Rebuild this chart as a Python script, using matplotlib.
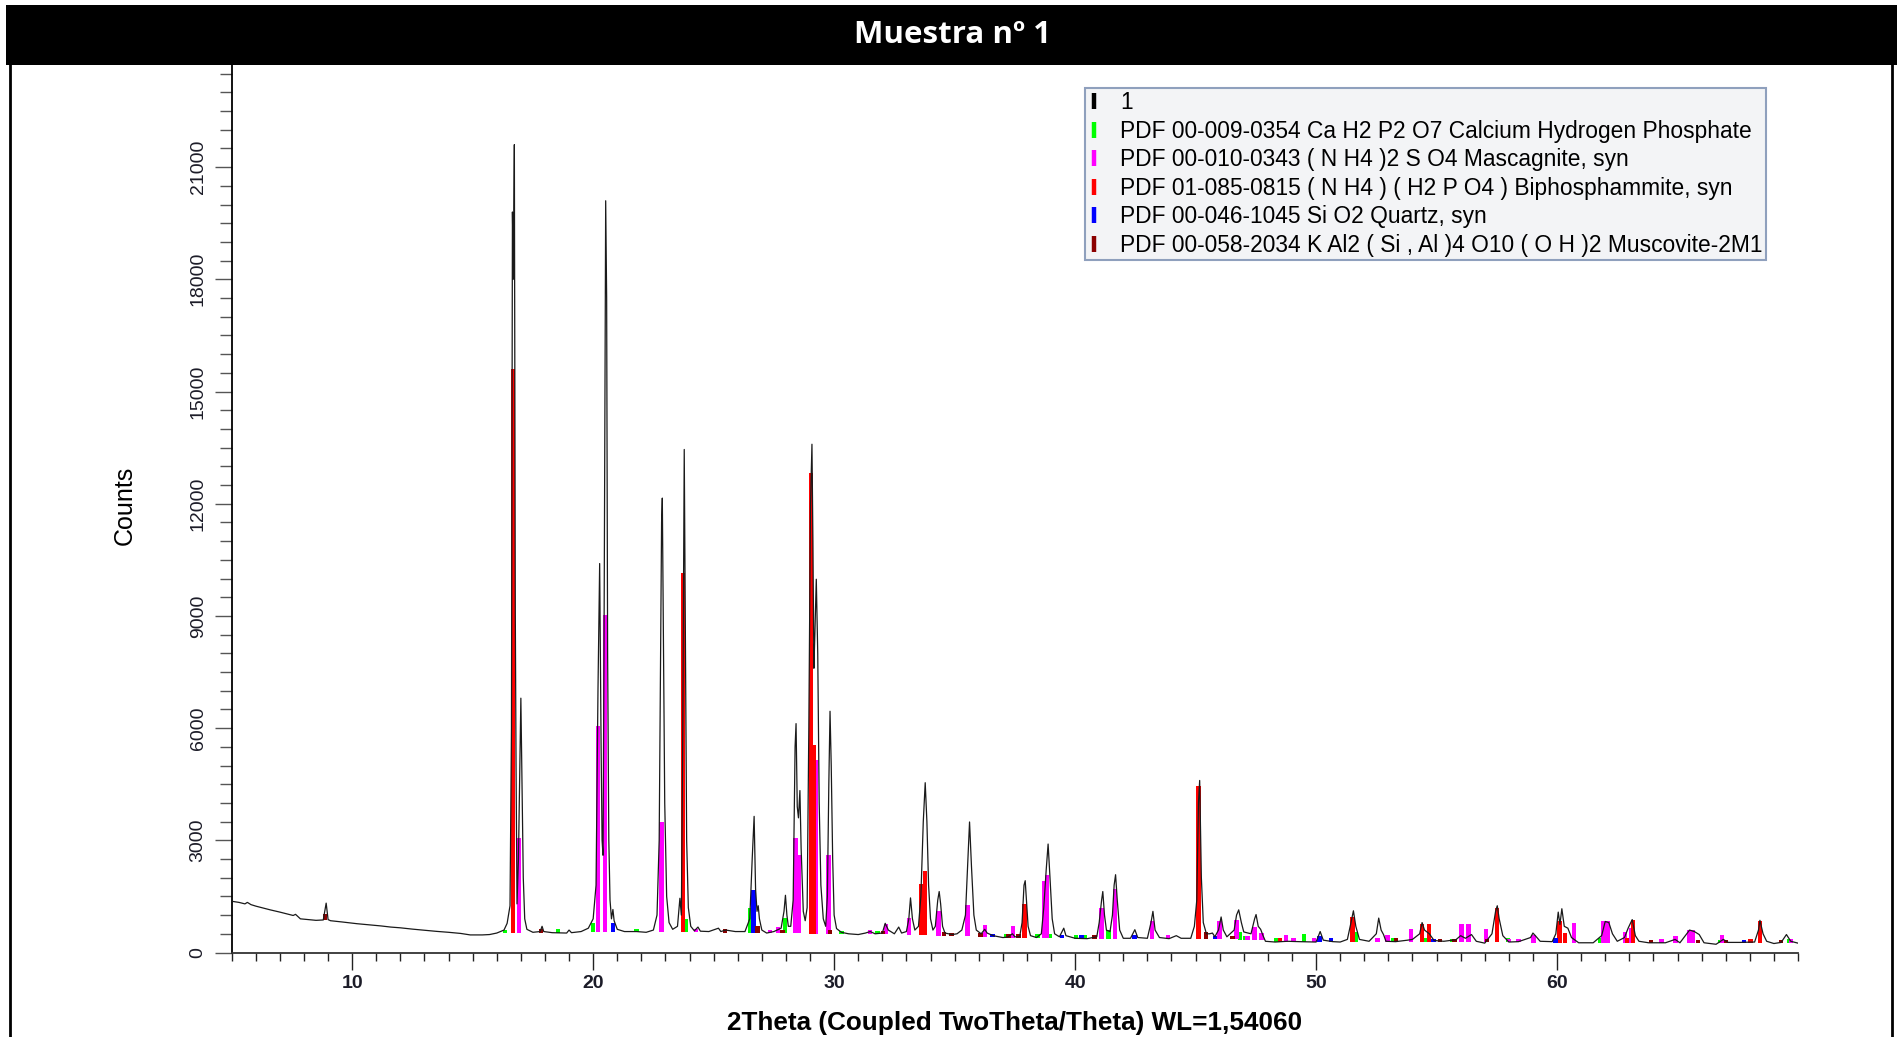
import numpy as np
import matplotlib.pyplot as plt
from matplotlib.lines import Line2D
from matplotlib.patches import Rectangle

plt.rcParams['font.family'] = ['Liberation Sans', 'DejaVu Sans']

two_theta = [5.0, 5.3, 5.55, 5.65, 5.8, 6.0, 6.3, 6.6, 7.0, 7.3, 7.55, 7.65, 7.85, 8.2, 8.5, 8.8,
             8.92, 9.0, 9.1, 9.6, 10.2, 10.7, 11.2, 11.6, 12.0, 12.5, 13.0, 13.5, 14.0, 14.5,
             14.9, 15.4, 15.7, 16.0, 16.3, 16.43, 16.55, 16.61, 16.65, 16.69, 16.73, 16.77,
             16.80, 16.84, 16.90, 16.96, 17.00, 17.05, 17.10, 17.16, 17.25, 17.5, 17.8, 17.88,
             17.95, 18.3, 18.9, 19.0, 19.1, 19.5, 19.8, 20.0, 20.12, 20.2, 20.27, 20.33, 20.37,
             20.41, 20.45, 20.49, 20.52, 20.56, 20.60, 20.65, 20.70, 20.76, 20.82, 20.87, 21.0,
             21.3, 21.8, 22.2, 22.5, 22.65, 22.74, 22.80, 22.84, 22.87, 22.92, 22.97, 23.05,
             23.15, 23.3, 23.5, 23.6, 23.66, 23.72, 23.78, 23.83, 23.88, 23.95, 24.05, 24.2,
             24.35, 24.45, 24.8, 25.2, 25.3, 25.5, 25.9, 26.3, 26.5, 26.6, 26.68, 26.74, 26.8,
             26.85, 26.9, 27.0, 27.2, 27.5, 27.8, 27.92, 27.98, 28.04, 28.1, 28.2, 28.3, 28.38,
             28.42, 28.47, 28.52, 28.58, 28.63, 28.72, 28.8, 28.88, 28.95, 29.02, 29.08, 29.12,
             29.16, 29.20, 29.26, 29.32, 29.38, 29.45, 29.55, 29.65, 29.72, 29.78, 29.83, 29.88,
             29.94, 30.0, 30.1, 30.3, 30.6, 31.0, 31.3, 31.5, 31.7, 32.0, 32.12, 32.25, 32.5,
             32.68, 32.8, 33.0, 33.1, 33.17, 33.25, 33.35, 33.5, 33.6, 33.7, 33.78, 33.85, 33.92,
             34.0, 34.1, 34.2, 34.3, 34.36, 34.42, 34.5, 34.6, 34.9, 35.1, 35.3, 35.45, 35.55,
             35.62, 35.7, 35.8, 35.9, 36.1, 36.25, 36.35, 36.6, 37.0, 37.2, 37.4, 37.5, 37.7,
             37.8, 37.88, 37.93, 37.98, 38.05, 38.15, 38.4, 38.6, 38.7, 38.8, 38.88, 38.95,
             39.05, 39.15, 39.35, 39.53, 39.62, 40.0, 40.5, 40.9, 41.0, 41.1, 41.15, 41.22, 41.3,
             41.45, 41.55, 41.62, 41.68, 41.75, 41.85, 42.0, 42.3, 42.48, 42.6, 43.0, 43.15,
             43.23, 43.32, 43.5, 43.9, 44.2, 44.4, 44.8, 44.95, 45.05, 45.12, 45.17, 45.24, 45.32,
             45.45, 45.58, 45.7, 45.8, 45.95, 46.06, 46.15, 46.3, 46.6, 46.7, 46.79, 46.9, 47.0,
             47.3, 47.45, 47.51, 47.6, 47.7, 47.8, 47.9, 48.3, 48.8, 49.3, 50.0, 50.17, 50.3,
             50.7, 51.0, 51.3, 51.45, 51.55, 51.65, 51.8, 52.2, 52.5, 52.6, 52.7, 52.8, 52.9,
             53.3, 53.8, 54.0, 54.3, 54.4, 54.5, 54.7, 54.9, 55.3, 55.8, 56.0, 56.2, 56.45, 56.65,
             57.0, 57.3, 57.45, 57.52, 57.6, 57.75, 58.0, 58.4, 58.9, 59.0, 59.1, 59.3, 59.8,
             59.95, 60.05, 60.12, 60.2, 60.3, 60.45, 60.6, 60.9, 61.5, 61.85, 62.0, 62.15, 62.3,
             62.5, 62.8, 62.95, 63.12, 63.25, 63.4, 63.8, 64.5, 64.9, 65.1, 65.5, 65.7, 65.9,
             66.1, 66.6, 66.9, 67.1, 67.6, 68.2, 68.36, 68.42, 68.55, 68.7, 69.0, 69.3, 69.52,
             69.7, 70.0]
counts = [1370, 1340, 1300, 1340, 1280, 1240, 1190, 1140, 1080, 1030, 990, 1020, 900, 880, 860, 870,
          1320, 880, 850, 815, 770, 740, 710, 680, 660, 625, 595, 565, 540, 510,
          470, 470, 480, 520, 600, 780, 1250, 6000, 19800, 18000, 21600, 9000,
          5000, 1300, 2500, 5000, 6800, 4500, 2000, 900, 620, 540, 560, 700,
          560, 530, 520, 600, 530, 560, 650, 900, 1800, 7000, 10400, 5500, 3000,
          2600, 8000, 15000, 20100, 17500, 8000, 3000, 1400, 900, 1150, 850, 620,
          560, 560, 540, 600, 1000, 3000, 8300, 11500, 12150, 8000, 4000, 1500,
          800, 620, 700, 1450, 1000, 6000, 13450, 8000, 3000, 1200, 700, 580,
          680, 570, 560, 650, 560, 600, 560, 560, 900, 2500, 3640, 1700, 1100,
          1250, 900, 600, 520, 560, 650, 1100, 1530, 1000, 700, 700, 1400, 5500,
          6120, 3900, 3600, 4330, 2800, 1100, 850, 1200, 6000, 12000, 13590, 11000,
          7600, 8500, 9980, 8000, 4000, 1800, 900, 700, 1500, 4500, 6450, 5000,
          2500, 1000, 640, 540, 500, 480, 520, 560, 500, 520, 780, 600, 500,
          680, 520, 560, 900, 1460, 900, 600, 700, 1500, 3500, 4540, 3500, 1800,
          900, 600, 700, 1400, 1630, 1300, 700, 520, 480, 500, 600, 1000, 2500,
          3490, 2300, 1000, 600, 500, 620, 520, 450, 400, 410, 500, 420, 420,
          800, 1800, 1920, 1400, 700, 450, 400, 500, 1200, 2200, 2900, 2100,
          900, 500, 420, 650, 450, 380, 370, 420, 800, 1400, 1630, 1000, 600,
          560, 1000, 1800, 2080, 1400, 600, 380, 380, 610, 400, 380, 800,
          1100, 600, 400, 370, 450, 380, 380, 700, 1400, 4000, 4600, 2000, 800,
          500, 500, 520, 420, 600, 950, 600, 420, 600, 1000, 1140, 800, 550,
          500, 900, 1015, 700, 620, 450, 300, 280, 300, 290, 280, 560, 330,
          290, 280, 350, 800, 1115, 700, 350, 300, 500, 920, 600, 480, 300,
          290, 330, 350, 500, 800, 600, 500, 320, 300, 340, 450, 380, 480, 300,
          250, 500, 1100, 1250, 900, 450, 280, 290, 400, 520, 450, 300, 290,
          500, 1080, 750, 1170, 700, 650, 400, 260, 260, 450, 830, 800, 500,
          300, 400, 650, 880, 450, 300, 260, 260, 350, 260, 600, 560, 480,
          260, 220, 350, 270, 270, 280, 600, 860, 500, 300, 240, 270, 480,
          300, 250]

# background level the reference sticks stand on
bg_theta = [5, 7, 9, 11, 13, 15, 16.5, 20, 24, 27, 30, 33, 37, 40, 44, 47.8, 48.2, 52, 56, 60, 66, 70]
bg_counts = [1370, 1080, 860, 720, 595, 470, 520, 540, 540, 520, 500, 480, 400, 370, 370, 340, 290,
             290, 280, 260, 250, 250]

# reference sticks: position (2theta) and top (counts)
cahpo_pos = [16.33, 18.55, 20.0, 21.8, 23.84, 26.53, 27.96, 30.3, 31.8, 37.14, 38.44, 38.94, 40.05,
             40.39, 41.38, 46.84, 47.07, 48.35, 49.5, 51.66, 53.18, 54.54, 55.65, 57.96, 61.8,
             66.77, 69.63]
cahpo_top = [600, 580, 780, 600, 900, 1200, 910, 560, 520, 420, 500, 500, 430,
             440, 600, 560, 450, 400, 500, 560, 330, 400, 330, 380, 400,
             300, 350]

masc_pos = [16.93, 20.2, 20.49, 22.83, 24.28, 27.33, 27.66, 28.4, 28.55, 29.23, 29.76, 31.5, 32.15,
            33.12, 34.33, 35.53, 36.27, 37.43, 38.73, 38.84, 41.1, 41.65, 43.2, 43.85, 45.99, 46.7,
            47.16, 47.45, 47.73, 48.74, 49.06, 49.92, 52.55, 52.96, 53.94, 56.03, 56.32, 57.04,
            58.02, 58.4, 59.02, 60.7, 61.93, 62.1, 62.83, 63.06, 64.34, 64.92, 65.5, 65.65, 66.84,
            69.7]
masc_top = [3050, 6060, 9020, 3490, 580, 550, 680, 3060, 2620, 5160, 2610, 600, 775,
            910, 1100, 1270, 740, 700, 1900, 2060, 1185, 1690, 830, 400, 855, 865,
            450, 695, 520, 460, 380, 360, 380, 470, 615, 765, 765, 615,
            360, 350, 455, 800, 830, 830, 540, 650, 360, 450, 605, 605, 470,
            360]

biph_pos = [16.67, 23.73, 29.03, 29.16, 33.63, 33.76, 37.9, 45.12, 48.5, 51.51, 54.4, 54.7, 57.5,
            60.1, 60.33, 62.9, 63.14, 68.03, 68.42]
biph_top = [15590, 10140, 12820, 5540, 1820, 2170, 1300, 4450, 330, 945, 765, 765, 1185,
            830, 520, 400, 875, 350, 855]

quartz_pos = [20.83, 26.65, 36.57, 39.47, 40.27, 42.46, 45.8, 50.14, 50.62, 54.87, 59.94, 67.77]
quartz_top = [780, 1680, 500, 460, 380, 430, 430, 440, 320, 320, 380, 310]

musc_pos = [8.88, 17.84, 25.46, 26.82, 27.86, 29.82, 32.03, 34.55, 34.87, 36.08, 37.24, 37.65, 40.8,
            45.42, 46.53, 53.32, 55.15, 55.74, 57.1, 63.9, 65.85, 67.0, 69.3]
musc_top = [1040, 580, 580, 720, 600, 520, 500, 480, 480, 440, 420, 420, 380,
            540, 400, 320, 320, 310, 300, 300, 290, 280, 270]

legend_labels = ["1",
                 "PDF 00-009-0354 Ca H2 P2 O7 Calcium Hydrogen Phosphate",
                 "PDF 00-010-0343 ( N H4 )2 S O4 Mascagnite, syn",
                 "PDF 01-085-0815 ( N H4 ) ( H2 P O4 ) Biphosphammite, syn",
                 "PDF 00-046-1045 Si O2 Quartz, syn",
                 "PDF 00-058-2034 K Al2 ( Si , Al )4 O10 ( O H )2 Muscovite-2M1"]
colors = ["black", "#00ff00", "#ff00ff", "#ff0000", "#0000ff", "#8b0000"]

W, H = 1897, 1037
fig = plt.figure(figsize=(W / 100, H / 100), dpi=100)

# title bar
fig.add_artist(Rectangle((6 / W, 1 - 65 / H), 1 - 6 / W, 60 / H, transform=fig.transFigure,
                         facecolor="black", edgecolor="none"))
fig.text(952 / W, 1 - 35 / H, "Muestra nº 1", color="white", fontsize=22.5, fontweight="bold",
         family=["Open Sans", "DejaVu Sans"], ha="center", va="center")
# frame sides
fig.add_artist(Line2D([10 / W, 10 / W], [0, 1 - 65 / H], color="black", lw=2, transform=fig.transFigure))
fig.add_artist(Line2D([1892 / W, 1892 / W], [0, 1 - 65 / H], color="black", lw=2, transform=fig.transFigure))

left, right, bottom, top = 231.7, 1798, 952.5, 65
ax = fig.add_axes([left / W, 1 - bottom / H, (right - left) / W, (bottom - top) / H])

phases = [(cahpo_pos, cahpo_top, colors[1]), (masc_pos, masc_top, colors[2]),
          (biph_pos, biph_top, colors[3]), (quartz_pos, quartz_top, colors[4]),
          (musc_pos, musc_top, colors[5])]
for pos, tops, c in phases:
    base = np.interp(pos, bg_theta, bg_counts)
    h = np.maximum(np.array(tops) - base, 90)
    ax.bar(pos, h, bottom=base, width=0.18, color=c, linewidth=0, zorder=2)

ax.plot(two_theta, counts, color="#1a1a1a", lw=0.9, zorder=3)

ax.set_xlim(5, 70)
ax.set_ylim(0, 23730)
ax.set_xticks(range(10, 70, 10))
ax.set_xticks(range(5, 71), minor=True)
ax.set_yticks(range(0, 21001, 3000))
ax.set_yticks(range(0, 23501, 500), minor=True)

for s in ["top", "right"]:
    ax.spines[s].set_visible(False)
ax.spines["left"].set_linewidth(1.3)
ax.spines["bottom"].set_linewidth(1.3)
ax.spines["bottom"].set_color("#333333")

ax.tick_params(axis="x", which="major", length=12, width=1, color="#222222", pad=4,
               labelsize=14, labelcolor="#1c1c28")
ax.tick_params(axis="x", which="minor", length=6, width=1, color="#222222")
ax.tick_params(axis="y", which="major", length=12, width=1, color="#555555", pad=6,
               labelsize=14, labelcolor="#1c1c28")
ax.tick_params(axis="y", which="minor", length=9, width=1, color="#555555")
for lbl in ax.get_xticklabels():
    lbl.set_fontweight("bold")
for lbl in ax.get_yticklabels():
    lbl.set_rotation(90)
    lbl.set_va("center")

fig.text(125 / W, 1 - 505 / H, "Counts", rotation=90, fontsize=18, ha="center", va="center")
fig.text(1015 / W, 1 - 1023 / H, "2Theta (Coupled TwoTheta/Theta) WL=1,54060", fontsize=18.8,
         fontweight="bold", ha="center", va="center")

handles = [Line2D([], [], color=c, marker="|", linestyle="None", markersize=12, markeredgewidth=3.2)
           for c in colors]
leg = fig.legend(handles, legend_labels, loc="upper left", bbox_to_anchor=(1085 / W, 1 - 88 / H),
                 bbox_transform=fig.transFigure, fontsize=16.4, labelspacing=0.24, handlelength=0.5,
                 handletextpad=0.9, borderpad=0.15, borderaxespad=0, fancybox=False, framealpha=1)
leg.get_frame().set_facecolor("#f3f4f6")
leg.get_frame().set_edgecolor("#8fa0bd")
leg.get_frame().set_linewidth(1.5)

fig.savefig("out.png", dpi=100, facecolor="white")
